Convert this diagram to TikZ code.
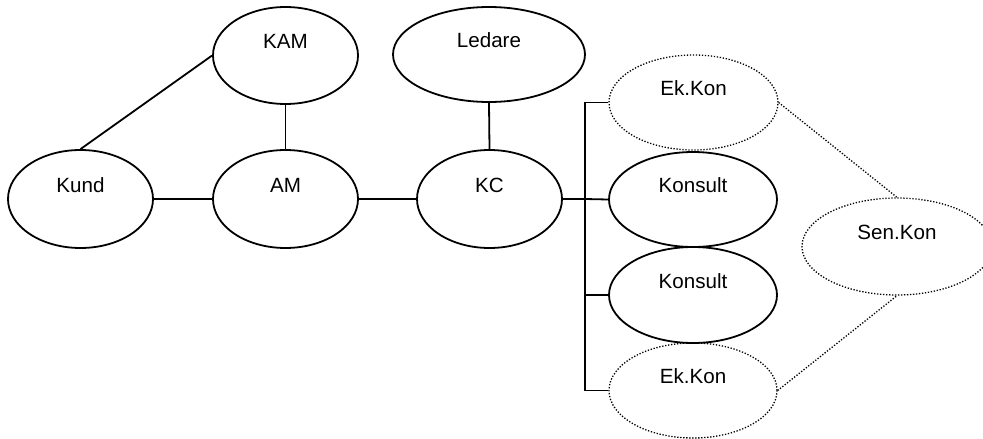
\documentclass[tikz,border=0pt]{standalone}
\usepackage{fontspec}
\setmainfont{Liberation Sans}
\usetikzlibrary{shapes.geometric}
\begin{document}
\begin{tikzpicture}[x=1pt,y=-1pt,
  bubble/.style={ellipse,draw,line width=1.8pt,inner sep=0pt,
    font=\fontsize{20.6}{24}\selectfont,text height=0pt,text depth=13.2pt},
  dotbubble/.style={bubble,line width=1.3pt,dash pattern=on 1.3pt off 1.7pt},
  link/.style={line width=1.8pt},
  dotlink/.style={line width=1.3pt,dash pattern=on 1.3pt off 1.7pt}]
\clip (0,0) rectangle (983,439);
\fill[white] (0,0) rectangle (983,439);
\node[bubble,minimum width=145pt,minimum height=97pt] (KAM) at (285.5,55.5) {KAM};
\node[bubble,minimum width=192pt,minimum height=95pt] (Ledare) at (489,54.5) {Ledare};
\node[bubble,minimum width=145pt,minimum height=98pt] (Kund) at (80.5,199) {Kund};
\node[bubble,minimum width=145pt,minimum height=98pt] (AM) at (285.5,199) {AM};
\node[bubble,minimum width=145pt,minimum height=98pt] (KC) at (489.5,199) {KC};
\node[dotbubble,minimum width=169pt,minimum height=95pt] (EkTop) at (693.5,102.5) {Ek.Kon};
\node[bubble,minimum width=168pt,minimum height=95pt] (Kon1) at (693,199.5) {Konsult};
\node[bubble,minimum width=168pt,minimum height=96pt] (Kon2) at (693,295) {Konsult};
\node[dotbubble,minimum width=168pt,minimum height=95pt] (EkBot) at (693,390.5) {Ek.Kon};
\node[dotbubble,minimum width=190pt,minimum height=97pt] (Sen) at (897,246.5) {Sen.Kon};
\coordinate (bus) at (585,199);
\draw[link] (Kund.north) -- (KAM.west);
\draw[link] (KAM.south) -- (AM.north);
\draw[link] (Kund.east) -- (AM.west);
\draw[link] (AM.east) -- (KC.west);
\draw[link] (Ledare.south) -- (KC.north);
\draw[link,line width=2.4pt] (KC.east) -- (bus);
\draw[link] (EkTop.west) -| (bus) |- (EkBot.west);
\draw[link] (bus) -- (Kon1.west);
\draw[link] (bus |- Kon2.west) -- (Kon2.west);
\draw[dotlink] (EkTop.east) -- (Sen.north);
\draw[dotlink] (EkBot.east) -- (Sen.south);
\end{tikzpicture}
\end{document}
